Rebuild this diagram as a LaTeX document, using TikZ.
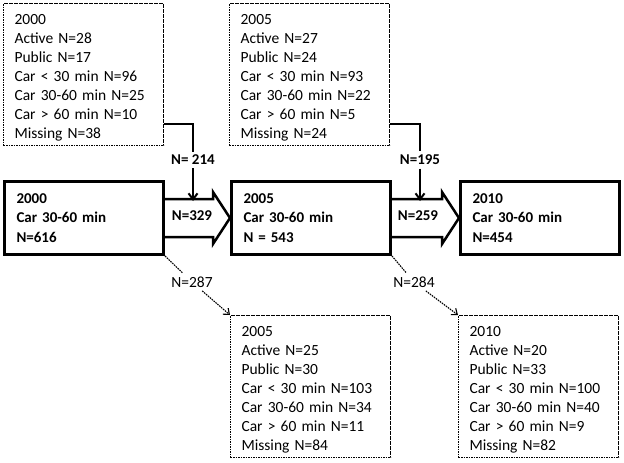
\documentclass[tikz,border=0pt]{standalone}
\usepackage{fontspec}
\setmainfont{Carlito}
\usetikzlibrary{positioning,calc,arrows.meta}

\begin{document}
\begin{tikzpicture}[x=1pt, y=-1pt,
  every node/.style={font=\fontsize{15.5}{19}\selectfont},
  infobox/.style={draw, dash pattern=on 1.6pt off 0.9pt, line width=1.1pt, anchor=north west,
    text width=138pt, inner xsep=11pt, minimum height=142pt, align=left,
    execute at begin node={\rule{0pt}{17pt}}},
  mainbox/.style={draw, line width=3pt, anchor=north west, text width=135pt, inner xsep=12pt,
    minimum height=73pt, align=left, font=\fontsize{15}{19.5}\selectfont\bfseries},
  flow/.style={font=\fontsize{15}{19}\selectfont\bfseries},
  lost/.style={dash pattern=on 1.6pt off 0.9pt, line width=1.1pt}]
  \useasboundingbox (0,0) rectangle (624,463);

  % main cohort boxes
  \node[mainbox] (b2000) at (3,180) {2000\\Car 30-60 min\\N=616};
  \node[mainbox] (b2005) at (230,180) {2005\\Car 30-60 min\\N = 543};
  \node[mainbox] (b2010) at (459,180) {2010\\Car 30-60 min\\N=454};

  % block arrows
  \foreach \a/\b in {b2000/b2005, b2005/b2010} {
    \draw[line width=2.5pt, line join=miter]
      ($(\a.east)+(0,-19)$) -- ($(\b.west)+(-17,-19)$) -- ($(\b.west)+(-17,-26)$)
      -- (\b.west) -- ($(\b.west)+(-17,26)$) -- ($(\b.west)+(-17,19)$)
      -- ($(\a.east)+(0,19)$);
  }
  \node[flow] (s329) at (192,216) {N=329};
  \node[flow] (s259) at (418,216) {N=259};

  % entering from other modes
  \node[infobox] (t2000) at (3,3) {2000\\Active N=28\\Public N=17\\Car < 30 min N=96\\Car 30-60 min N=25\\Car > 60 min N=10\\Missing N=38};
  \node[infobox] (t2005) at (229,3) {2005\\Active N=27\\Public N=24\\Car < 30 min N=93\\Car 30-60 min N=22\\Car > 60 min N=5\\Missing N=24};

  \node[flow] (l214) at (193,160) {N= 214};
  \node[flow] (l195) at (420,160) {N=195};
  \coordinate (in1) at (193,201);
  \coordinate (in2) at (420,201);

  \draw[line width=2pt] ($(t2000.east)+(0,49)$) -| (l214.north);
  \draw[line width=2pt] ($(t2005.east)+(0,49)$) -| (l195.north);
  \draw[line width=2pt, -{Straight Barb[length=6pt,width=9pt]}] (l214.south) -- (in1);
  \draw[line width=2pt, -{Straight Barb[length=6pt,width=9pt]}] (l195.south) -- (in2);

  % leaving to other modes
  \node (l287) at (192,282) {N=287};
  \node (l284) at (414,282) {N=284};

  \node[infobox] (d2005) at (230,315) {2005\\Active N=25\\Public N=30\\Car < 30 min N=103\\Car 30-60 min N=34\\Car > 60 min N=11\\Missing N=84};
  \node[infobox] (d2010) at (458,315) {2010\\Active N=20\\Public N=33\\Car < 30 min N=100\\Car 30-60 min N=40\\Car > 60 min N=9\\Missing N=82};

  \draw[lost] (b2000.south east) -- (l287);
  \draw[lost] (b2005.south east) -- (l284);
  \draw[lost, -{Straight Barb[length=5pt,width=8pt]}] (l287) -- (d2005.north west);
  \draw[lost, -{Straight Barb[length=5pt,width=8pt]}] (l284) -- (d2010.north west);
\end{tikzpicture}
\end{document}
